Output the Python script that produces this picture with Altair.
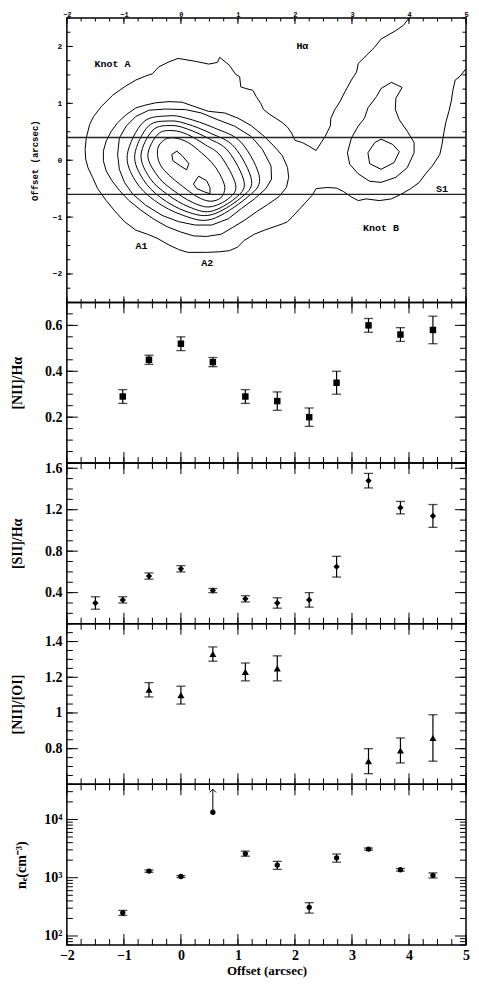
import altair as alt
import pandas as pd
import numpy as np

# ------------------------------------------------------------------ data
# Panel 1: H-alpha contours, (offset x, offset y) in arcsec
c_outer = [(4.00,2.50),(3.90,2.37),(3.77,2.28),(3.51,2.13),(3.40,1.99),(3.25,1.84),(3.11,1.70),(3.08,1.55),
           (2.99,1.41),(2.88,1.21),(2.79,1.03),(2.70,0.89),(2.63,0.74),(2.62,0.60),(2.53,0.42),(2.46,0.31),
           (2.37,0.17),(2.24,0.25),(2.13,0.31),(2.00,0.35),(1.94,0.48),(1.87,0.58),(1.78,0.66),(1.66,0.74),
           (1.55,0.81),(1.45,0.89),(1.40,1.00),(1.32,1.12),(1.26,1.23),(1.14,1.26),(1.05,1.29),(1.03,1.47),
           (0.96,1.51),(0.85,1.67),(0.68,1.81),(0.64,1.72),(0.49,1.69),(0.25,1.74),(-0.05,1.79),(-0.21,1.73),
           (-0.39,1.64),(-0.50,1.52),(-0.62,1.48),(-0.79,1.41),(-0.99,1.29),(-1.20,1.14),(-1.40,0.94),
           (-1.53,0.77),(-1.60,0.63),(-1.66,0.39),(-1.68,0.19),(-1.67,0.02),(-1.63,-0.13),(-1.55,-0.30),
           (-1.46,-0.50),(-1.31,-0.71),(-1.17,-0.88),(-0.99,-1.08),(-0.79,-1.23),(-0.59,-1.30),(-0.42,-1.37),
           (-0.21,-1.49),(-0.04,-1.57),(0.12,-1.62),(0.45,-1.62),(0.68,-1.61),(0.85,-1.59),(0.99,-1.53),
           (1.11,-1.41),(1.29,-1.30),(1.49,-1.22),(1.78,-1.12),(1.87,-1.08),(1.95,-1.00),(2.07,-0.87),
           (2.18,-0.75),(2.30,-0.62),(2.37,-0.50),(2.56,-0.48),(2.73,-0.49),(2.85,-0.55),(2.98,-0.64),
           (3.11,-0.71),(3.25,-0.68),(3.48,-0.71),(3.69,-0.68),(3.86,-0.60),(4.03,-0.50),(4.18,-0.39),
           (4.29,-0.24),(4.41,-0.10),(4.54,0.10),(4.58,0.28),(4.61,0.48),(4.65,0.68),(4.70,0.86),(4.74,1.03),
           (4.77,1.23),(4.81,1.41),(4.90,1.48),(5.00,1.61)]
c_a2 = [(-1.36,0.16),(-1.31,0.34),(-1.22,0.51),(-1.11,0.66),(-0.96,0.80),(-0.79,0.92),(-0.62,0.97),
        (-0.44,1.01),(-0.21,1.03),(0.02,1.02),(0.25,0.94),(0.48,0.86),(0.77,0.83),(1.00,0.74),(1.23,0.61),
        (1.46,0.42),(1.63,0.25),(1.78,0.08),(1.87,-0.13),(1.89,-0.30),(1.85,-0.48),(1.72,-0.64),(1.52,-0.78),
        (1.32,-0.91),(1.11,-1.06),(0.91,-1.18),(0.71,-1.30),(0.45,-1.34),(0.22,-1.33),(-0.01,-1.26),
        (-0.24,-1.17),(-0.47,-1.04),(-0.70,-0.88),(-0.91,-0.71),(-1.08,-0.53),(-1.21,-0.36),(-1.31,-0.19),
        (-1.36,-0.01)]
c_a3 = [(-1.08,0.39),(-0.96,0.60),(-0.79,0.77),(-0.56,0.88),(-0.27,0.90),(0.08,0.89),(0.36,0.83),(0.65,0.71),
        (0.94,0.60),(1.23,0.42),(1.43,0.19),(1.58,-0.10),(1.59,-0.33),(1.49,-0.50),(1.29,-0.68),(1.06,-0.85),
        (0.83,-1.03),(0.54,-1.14),(0.25,-1.14),(-0.04,-1.08),(-0.33,-0.97),(-0.62,-0.79),(-0.85,-0.59),
        (-0.99,-0.39),(-1.08,-0.16),(-1.11,0.10)]
c_a4 = [(-0.94,0.10),(-0.66,0.67),(-0.23,0.78),(0.09,0.74),(0.58,0.57),(1.06,0.31),(1.38,-0.32),(1.14,-0.67),
        (0.53,-1.04),(0.04,-0.97),(-0.46,-0.71),(-0.80,-0.36)]
c_a5 = [(-0.81,0.09),(-0.57,0.60),(-0.20,0.69),(0.10,0.64),(0.53,0.47),(0.94,0.23),(1.24,-0.36),(1.04,-0.67),
        (0.53,-0.96),(0.09,-0.90),(-0.35,-0.66),(-0.66,-0.34)]
c_a6 = [(-0.70,0.09),(-0.49,0.53),(-0.17,0.61),(0.11,0.55),(0.49,0.38),(0.83,0.16),(1.11,-0.39),(0.95,-0.67),
        (0.52,-0.90),(0.14,-0.82),(-0.24,-0.60),(-0.54,-0.32)]
c_a7 = [(-0.58,0.08),(-0.40,0.46),(-0.14,0.52),(0.12,0.45),(0.43,0.27),(0.70,0.07),(0.96,-0.43),(0.84,-0.67),
        (0.51,-0.82),(0.20,-0.74),(-0.12,-0.54),(-0.39,-0.30)]
c_a8 = [(-0.39,0.25),(-0.27,0.37),(-0.10,0.39),(0.13,0.31),(0.36,0.13),(0.54,-0.04),(0.68,-0.24),(0.77,-0.48),
        (0.70,-0.66),(0.51,-0.72),(0.28,-0.64),(0.03,-0.46),(-0.20,-0.27),(-0.35,-0.10),(-0.41,0.08)]
c_peak1 = [(-0.16,0.10),(-0.07,0.16),(0.02,0.08),(0.14,-0.06),(0.10,-0.17),(-0.01,-0.10),(-0.14,-0.01)]
c_peak2 = [(0.22,-0.42),(0.31,-0.28),(0.45,-0.36),(0.51,-0.48),(0.51,-0.59),(0.42,-0.56),(0.28,-0.50)]
c_b1 = [(3.69,1.37),(3.51,1.26),(3.43,1.12),(3.28,0.92),(3.22,0.74),(3.11,0.60),(2.99,0.39),(2.92,0.13),
        (2.96,-0.07),(3.11,-0.24),(3.31,-0.37),(3.51,-0.39),(3.77,-0.30),(3.97,-0.13),(4.09,0.13),(4.09,0.31),
        (3.97,0.51),(3.83,0.71),(3.76,0.89),(3.77,1.09),(3.88,1.28)]
c_b2 = [(3.40,0.31),(3.51,0.37),(3.71,0.28),(3.83,0.15),(3.74,-0.04),(3.51,-0.16),(3.31,-0.06),(3.28,0.13)]

lab_text = ["Knot A", "Hα", "A1", "A2", "Knot B", "S1"]
lab_x = [-1.20, 2.13, -0.69, 0.46, 3.51, 4.58]
lab_y = [1.70, 2.00, -1.51, -1.80, -1.20, -0.50]
slit_y = [0.4, -0.6]

# Panel 2: [NII]/Halpha
nii_x = [-1.02, -0.56, 0.00, 0.56, 1.13, 1.69, 2.25, 2.73, 3.29, 3.85, 4.42]
nii_v = [0.29, 0.45, 0.52, 0.44, 0.29, 0.27, 0.20, 0.35, 0.60, 0.56, 0.58]
nii_e = [0.03, 0.02, 0.03, 0.02, 0.03, 0.04, 0.04, 0.05, 0.03, 0.03, 0.06]
# Panel 3: [SII]/Halpha
sii_x = [-1.50, -1.02, -0.56, 0.00, 0.56, 1.13, 1.69, 2.25, 2.73, 3.29, 3.85, 4.42]
sii_v = [0.30, 0.33, 0.56, 0.63, 0.42, 0.34, 0.30, 0.33, 0.65, 1.48, 1.22, 1.14]
sii_e = [0.06, 0.03, 0.03, 0.03, 0.02, 0.03, 0.05, 0.07, 0.10, 0.07, 0.06, 0.11]
# Panel 4: [NII]/[OI]
oi_x = [-0.56, 0.00, 0.56, 1.13, 1.69, 3.29, 3.85, 4.42]
oi_v = [1.13, 1.10, 1.33, 1.23, 1.25, 0.73, 0.79, 0.86]
oi_e = [0.04, 0.05, 0.04, 0.05, 0.07, 0.07, 0.07, 0.13]
# Panel 5: electron density
ne_x = [-1.02, -0.56, 0.00, 1.13, 1.69, 2.25, 2.73, 3.29, 3.85, 4.42]
ne_v = [250, 1300, 1050, 2600, 1650, 310, 2200, 3100, 1370, 1100]
ne_e = [25, 60, 40, 260, 260, 63, 350, 130, 70, 110]
ne_lim_x = [0.56]
ne_lim_v = [13300]
ne_lim_top = [33000]

# ------------------------------------------------------------------ styling
SERIF = "Liberation Serif"
MONO = "Liberation Mono"
W = 400
H_TOP = 285
H = 161

XS = alt.Scale(domain=[-2, 5], nice=False, zero=False)
x_major = list(range(-2, 6))
x_minor = [round(v, 2) for v in np.arange(-2, 5.001, 0.25)]


def tick_layers(xax, yscale, yax, h, ymaj, ymin, lmaj, lmin):
    out = []
    for vals, L in ((x_minor, lmin), (x_major, lmaj)):
        r = alt.Chart(pd.DataFrame({"v": vals})).mark_rule(color="black", strokeWidth=1)
        X = alt.X("v:Q", scale=XS, axis=xax)
        out.append(r.encode(x=X, y=alt.value(0), y2=alt.value(L)))
        out.append(r.encode(x=X, y=alt.value(h), y2=alt.value(h - L)))
    for vals, L in ((ymin, lmin), (ymaj, lmaj)):
        r = alt.Chart(pd.DataFrame({"v": vals})).mark_rule(color="black", strokeWidth=1)
        Y = alt.Y("v:Q", scale=yscale, axis=yax)
        out.append(r.encode(y=Y, x=alt.value(0), x2=alt.value(L)))
        out.append(r.encode(y=Y, x=alt.value(W), x2=alt.value(W - L)))
    return out


def cdf(contours):
    rows = []
    for cid, pts in contours.items():
        for i, (x, y) in enumerate(pts):
            rows.append({"c": cid, "i": i, "x": x, "y": y})
    return pd.DataFrame(rows)


# ------------------------------------------------------------------ panel 1
YS_TOP = alt.Scale(domain=[-2.5, 2.5], nice=False, zero=False)
ax_top_x = alt.Axis(orient="top", values=x_major, ticks=False, domain=False, grid=False,
                    labelFont=MONO, labelFontSize=7, labelFontWeight="bold", labelPadding=1,
                    labelFlush=False, labelOverlap=False, title=None)
ax_top_y = alt.Axis(values=[-2, -1, 0, 1, 2], ticks=False, domain=False, grid=False,
                    labelFont=MONO, labelFontSize=8, labelFontWeight="bold", labelPadding=5,
                    title="Offset (arcsec)", titleFont=MONO, titleFontSize=9, titleFontWeight="bold",
                    titleX=-32, titleBaseline="middle")
X1 = alt.X("x:Q", scale=XS, axis=ax_top_x)
Y1 = alt.Y("y:Q", scale=YS_TOP, axis=ax_top_y)

open_l = alt.Chart(cdf({"o": c_outer})).mark_line(color="black", strokeWidth=1, clip=True).encode(
    x=X1, y=Y1, detail="c:N", order="i:Q")
closed_l = alt.Chart(cdf({"a2": c_a2, "a3": c_a3, "p1": c_peak1, "p2": c_peak2, "b1": c_b1, "b2": c_b2})).mark_line(
    color="black", strokeWidth=1, interpolate="linear-closed", clip=True).encode(
    x=X1, y=Y1, detail="c:N", order="i:Q")
smooth_l = alt.Chart(cdf({"a4": c_a4, "a5": c_a5, "a6": c_a6, "a7": c_a7, "a8": c_a8})).mark_line(
    color="black", strokeWidth=1, interpolate="cardinal-closed", clip=True).encode(
    x=X1, y=Y1, detail="c:N", order="i:Q")
slits = alt.Chart(pd.DataFrame({"y": slit_y})).mark_rule(color="#222", strokeWidth=1.4).encode(y=Y1)
labels = alt.Chart(pd.DataFrame({"t": lab_text, "x": lab_x, "y": lab_y})).mark_text(
    font=MONO, fontSize=10, fontWeight="bold", color="black").encode(x=X1, y=Y1, text="t:N")

top_ticks = tick_layers(ax_top_x, YS_TOP, ax_top_y, H_TOP, [-2, -1, 0, 1, 2],
                        [round(v, 2) for v in np.arange(-2.5, 2.501, 0.25)], 6, 3.5)
panel1 = alt.layer(open_l, closed_l, smooth_l, slits, labels, *top_ticks).properties(width=W, height=H_TOP)


# ------------------------------------------------------------------ lower panels
def yaxis(title, values, title_x, label_expr=None):
    kw = dict(values=values, ticks=False, domain=False, grid=False, labelFont=SERIF, labelFontSize=14,
              labelFontWeight="bold", labelPadding=5, title=title, titleFont=SERIF, titleFontSize=14,
              titleFontWeight="bold", titleX=title_x, titleBaseline="middle", format="~g")
    if label_expr:
        kw["labelExpr"] = label_expr
    return alt.Axis(**kw)


def data_panel(x, v, e, yscale, yax, marker, xax):
    df = pd.DataFrame({"x": x, "v": v, "e": e})
    df["lo"] = df["v"] - df["e"]
    df["hi"] = df["v"] + df["e"]
    base = alt.Chart(df)
    X = alt.X("x:Q", scale=XS, axis=xax)
    bars = base.mark_rule(color="black", strokeWidth=1.2).encode(
        x=X, y=alt.Y("lo:Q", scale=yscale, axis=yax), y2="hi:Q")
    cap_lo = base.mark_tick(color="black", orient="horizontal", size=9, thickness=1.3).encode(
        x=X, y=alt.Y("lo:Q", scale=yscale, axis=yax))
    cap_hi = base.mark_tick(color="black", orient="horizontal", size=9, thickness=1.3).encode(
        x=X, y=alt.Y("hi:Q", scale=yscale, axis=yax))
    pts = marker(base).encode(x=X, y=alt.Y("v:Q", scale=yscale, axis=yax))
    return [bars, cap_lo, cap_hi, pts]


# Panel 2
YS2 = alt.Scale(domain=[0, 0.7], nice=False, zero=False)
ax2 = yaxis("[NII]/Hα", [0.2, 0.4, 0.6], -49)
p2 = data_panel(nii_x, nii_v, nii_e, YS2, ax2,
                lambda b: b.mark_square(color="black", size=42, opacity=1), None)
p2_ticks = tick_layers(None, YS2, ax2, H, [0, 0.2, 0.4, 0.6],
                       [round(v, 2) for v in np.arange(0, 0.701, 0.05)], 11, 6)
panel2 = alt.layer(*p2, *p2_ticks).properties(width=W, height=H)

# Panel 3
YS3 = alt.Scale(domain=[0.1, 1.65], nice=False, zero=False)
ax3 = yaxis("[SII]/Hα", [0.4, 0.8, 1.2, 1.6], -49)
p3 = data_panel(sii_x, sii_v, sii_e, YS3, ax3,
                lambda b: b.mark_point(shape="diamond", filled=True, color="black", size=40, opacity=1), None)
p3_ticks = tick_layers(None, YS3, ax3, H, [0.4, 0.8, 1.2, 1.6],
                       [round(v, 2) for v in np.arange(0.2, 1.601, 0.1)], 11, 6)
panel3 = alt.layer(*p3, *p3_ticks).properties(width=W, height=H)

# Panel 4
YS4 = alt.Scale(domain=[0.6, 1.5], nice=False, zero=False)
ax4 = yaxis("[NII]/[OI]", [0.8, 1, 1.2, 1.4], -49)
p4 = data_panel(oi_x, oi_v, oi_e, YS4, ax4,
                lambda b: b.mark_point(shape="triangle-up", filled=True, color="black", size=50, opacity=1), None)
p4_ticks = tick_layers(None, YS4, ax4, H, [0.8, 1.0, 1.2, 1.4],
                       [round(v, 2) for v in np.arange(0.6, 1.501, 0.05)], 11, 6)
panel4 = alt.layer(*p4, *p4_ticks).properties(width=W, height=H)

# Panel 5
YS5 = alt.Scale(type="log", domain=[70, 40000], nice=False)
ax_bot_x = alt.Axis(orient="bottom", values=x_major, ticks=False, domain=False, grid=False,
                    labelFont=SERIF, labelFontSize=14, labelFontWeight="bold", labelPadding=4,
                    labelFlush=False, labelOverlap=False, title="Offset (arcsec)", titleFont=SERIF,
                    titleFontSize=13, titleFontWeight="bold", titlePadding=2)
ne_expr = "'10' + (datum.value >= 10000 ? '⁴' : datum.value >= 1000 ? '³' : '²')"
ax5 = yaxis("nₑ(cm⁻³)", [100, 1000, 10000], -45, ne_expr)
p5 = data_panel(ne_x, ne_v, ne_e, YS5, ax5,
                lambda b: b.mark_circle(color="black", size=28, opacity=1), ax_bot_x)
lim_df = pd.DataFrame({"x": ne_lim_x, "v": ne_lim_v, "t": ne_lim_top})
X5 = alt.X("x:Q", scale=XS, axis=ax_bot_x)
lim_rule = alt.Chart(lim_df).mark_rule(color="black", strokeWidth=1).encode(
    x=X5, y=alt.Y("v:Q", scale=YS5, axis=ax5), y2="t:Q")
lim_head = alt.Chart(lim_df).mark_point(shape="M-1,1L0,0L1,1", filled=False, color="black",
                                        size=40, strokeWidth=1, opacity=1).encode(
    x=X5, y=alt.Y("t:Q", scale=YS5, axis=ax5))
lim_pt = alt.Chart(lim_df).mark_circle(color="black", size=28, opacity=1).encode(
    x=X5, y=alt.Y("v:Q", scale=YS5, axis=ax5))
log_minor = [m * 10 ** k for k in range(1, 5) for m in range(2, 10) if 70 <= m * 10 ** k <= 40000]
p5_ticks = tick_layers(ax_bot_x, YS5, ax5, H, [100, 1000, 10000], log_minor, 11, 6)
panel5 = alt.layer(*p5, lim_rule, lim_head, lim_pt, *p5_ticks).properties(width=W, height=H)

chart = alt.vconcat(panel1, panel2, panel3, panel4, panel5, spacing=0, bounds="flush").resolve_scale(
    x="independent", y="independent").properties(
    padding={"left": 2, "top": 0, "right": 0, "bottom": 0}).configure_view(
    stroke="black", strokeWidth=1.5).configure_concat(spacing=0)

chart.save("out.html", embed_options={"renderer": "svg", "actions": False})
